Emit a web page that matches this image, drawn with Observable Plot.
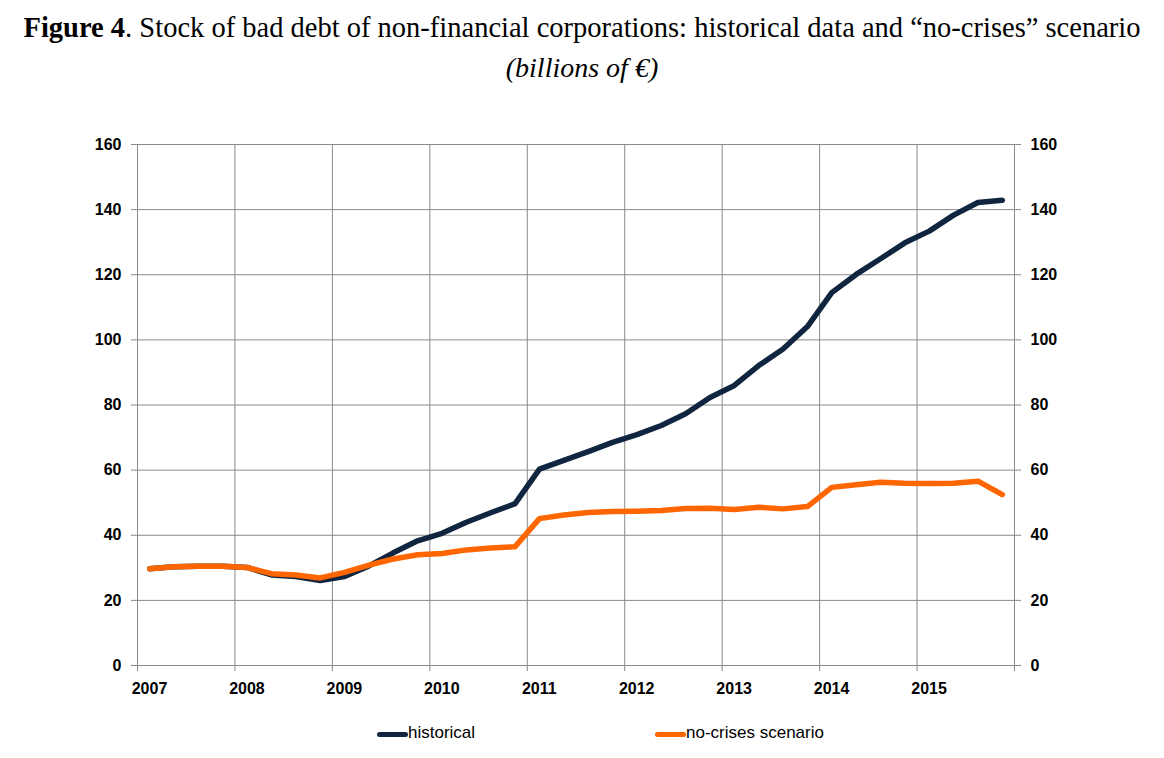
<!DOCTYPE html>
<html><head><meta charset="utf-8">
<script src="https://cdn.jsdelivr.net/npm/d3@7"></script>
<script src="https://cdn.jsdelivr.net/npm/@observablehq/plot@0.6"></script>
<style>
body{margin:0;background:#fff;width:1164px;height:758px;overflow:hidden;position:relative}
#title{position:absolute;top:12px;left:0;width:1164px;text-align:center;font-family:"Liberation Serif","Times New Roman",serif;font-size:28.5px;color:#000;white-space:nowrap}
#sub{position:absolute;top:52px;left:0;width:1164px;text-align:center;font-family:"Liberation Serif","Times New Roman",serif;font-size:28px;font-style:italic;color:#000}
#chart{position:absolute;top:100px;left:0}
.leg{position:absolute;top:723px;font-family:"Liberation Sans",Arial,sans-serif;font-size:17px;color:#000;white-space:nowrap}
.sw{position:absolute;height:5px;border-radius:3px;top:732px;width:31px}
</style></head>
<body>
<div id="title"><b>Figure 4</b>. Stock of bad debt of non-financial corporations: historical data and “no-crises” scenario</div>
<div id="sub">(billions of €)</div>
<div id="chart"></div>
<div class="sw" style="left:377px;background:#10253f"></div><div class="leg" style="left:408px">historical</div>
<div class="sw" style="left:655px;background:#ff6600"></div><div class="leg" style="left:686px">no-crises scenario</div>
<script>
const quarters = ["2007Q1","2007Q2","2007Q3","2007Q4","2008Q1","2008Q2","2008Q3","2008Q4",
  "2009Q1","2009Q2","2009Q3","2009Q4","2010Q1","2010Q2","2010Q3","2010Q4",
  "2011Q1","2011Q2","2011Q3","2011Q4","2012Q1","2012Q2","2012Q3","2012Q4",
  "2013Q1","2013Q2","2013Q3","2013Q4","2014Q1","2014Q2","2014Q3","2014Q4",
  "2015Q1","2015Q2","2015Q3","2015Q4"];
const historical = [29.7,30.3,30.5,30.5, 30.1,27.8,27.3,26.1, 27.3,30.6,34.6,38.3, 40.6,44.0,46.9,49.7,
  60.3,63.0,65.7,68.5, 70.9,73.7,77.3,82.3, 86.0,92.1,97.2,104.1, 114.5,120.1,124.9,129.8,
  133.4,138.3,142.2,142.9];
const noCrises = [29.7,30.3,30.5,30.5, 30.1,28.2,27.8,26.9, 28.6,30.8,32.7,34.0, 34.4,35.5,36.1,36.5,
  45.1,46.2,47.0,47.3, 47.4,47.6,48.2,48.3, 47.9,48.6,48.1,48.8, 54.7,55.5,56.3,56.0,
  55.9,56.0,56.6,52.5];
const seriesNames = ["historical","no-crises scenario"];
const seriesColors = ["#10253f","#ff6600"];
const yearTicks = [2007,2008,2009,2010,2011,2012,2013,2014,2015,2016];
const yearLabels = [2007,2008,2009,2010,2011,2012,2013,2014,2015];
const yTicks = [0,20,40,60,80,100,120,140,160];

const qx = q => +q.slice(0,4) + (+q.slice(5) - 0.5) / 4;
const data = [];
quarters.forEach((q,i) => data.push({t: qx(q), v: historical[i], s: seriesNames[0]}));
quarters.forEach((q,i) => data.push({t: qx(q), v: noCrises[i], s: seriesNames[1]}));

const chart = Plot.plot({
  width: 1164, height: 612,
  marginLeft: 137, marginRight: 150, marginTop: 44, marginBottom: 47,
  x: {domain: [2007, 2016]},
  y: {domain: [0, 160]},
  color: {domain: seriesNames, range: seriesColors},
  style: {fontFamily: "Liberation Sans, Arial, sans-serif", fontSize: "16px", fontWeight: "bold", color: "#000", background: "#fff"},
  marks: [
    Plot.gridX(yearTicks, {stroke: "#888", strokeOpacity: 1}),
    Plot.gridY(yTicks, {stroke: "#888", strokeOpacity: 1}),
    Plot.axisX(yearTicks, {tickSize: 6, tickFormat: () => "", stroke: "#888", label: null}),
    Plot.axisX(yearLabels, {tickSize: 0, tickPadding: 17, dx: 12, tickFormat: d => String(d), label: null, fill: "#000"}),
    Plot.axisY(yTicks, {anchor: "left", tickSize: 6, tickPadding: 10, stroke: "#888", label: null, fill: "#000"}),
    Plot.axisY(yTicks, {anchor: "right", tickSize: 6, tickPadding: 10, stroke: "#888", label: null, fill: "#000"}),
    Plot.line(data, {x: "t", y: "v", z: "s", stroke: "s", strokeWidth: 5.5, strokeLinejoin: "round", strokeLinecap: "round"})
  ]
});
document.getElementById("chart").appendChild(chart);
</script>
</body></html>
